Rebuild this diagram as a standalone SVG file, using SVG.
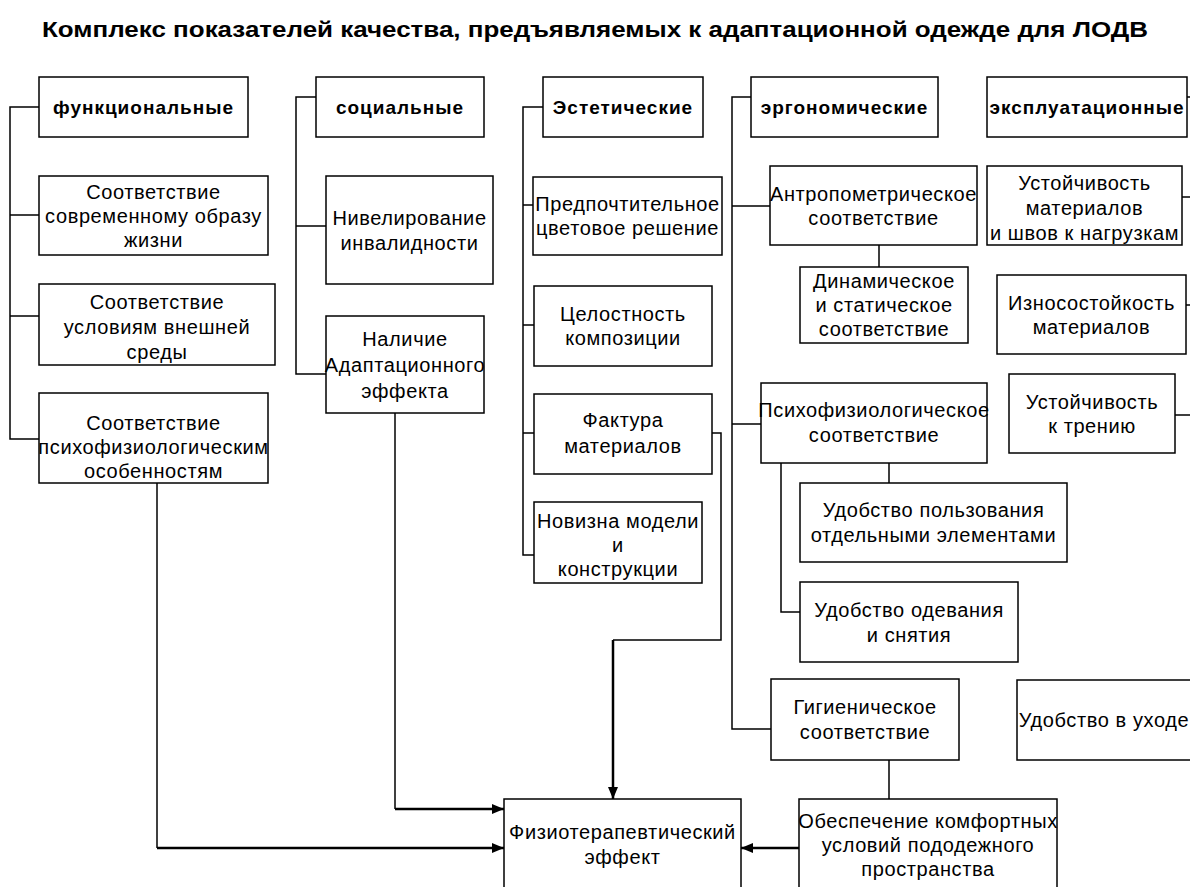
<svg xmlns="http://www.w3.org/2000/svg" width="1190" height="887" viewBox="0 0 1190 887">
<defs>
<style>
.box{fill:#fff;stroke:#000;stroke-width:1.5}
.t{font-family:"Liberation Sans",Arial,sans-serif;font-size:20px;letter-spacing:0.6px;text-anchor:middle;fill:#000}
.h{font-family:"Liberation Sans",Arial,sans-serif;font-size:19px;letter-spacing:1px;font-weight:bold;text-anchor:middle;fill:#000}
.c{fill:none;stroke:#000;stroke-width:1.5}
.a{fill:none;stroke:#000;stroke-width:2.5;marker-end:url(#ah)}
</style>
<marker id="ah" markerUnits="userSpaceOnUse" markerWidth="12" markerHeight="10" refX="12" refY="5" orient="auto">
<path d="M0,0 L12,5 L0,10 z" fill="#000"/>
</marker>
</defs>
<rect width="1190" height="887" fill="#fff"/>
<text x="595" y="37" font-family="Liberation Sans,Arial,sans-serif" font-size="22" font-weight="bold" text-anchor="middle" textLength="1106" lengthAdjust="spacingAndGlyphs">Комплекс показателей качества, предъявляемых к адаптационной одежде для ЛОДВ</text>

<g id="connectors">
<path class="c" d="M39,107 H10 V439 H39 M10,215 H39 M10,316 H39"/>
<path class="c" d="M316,97 H296 V374 H326 M296,226 H326"/>
<path class="c" d="M544,107 H523 V555 H534 M523,205 H533 M523,325 H534 M523,433 H534"/>
<path class="c" d="M751,97 H732 V729 H771 M732,206 H770 M732,424 H761"/>
<path class="c" d="M879,245 V267 M889,463 V483 M781,463 V612 H800 M889,760 V799"/>
<path class="c" d="M1187,97 H1190 M1182,197 H1190 M1186,305 H1190 M1175,415 H1190"/>
<path class="c" d="M712,433 H721 V640 H613"/>
<path class="a" d="M613,640 V799"/>
<path class="c" d="M157,483 V848"/>
<path class="a" d="M157,848 H504"/>
<path class="c" d="M395,413 V809"/>
<path class="a" d="M395,809 H504"/>
<path class="a" d="M799,848 H741"/>
</g>

<g id="n-func">
<rect class="box" x="39" y="77" width="209" height="60"/>
<text class="h" x="143.5" y="114">функциональные</text>
</g>
<g id="n-func1">
<rect class="box" x="39" y="176" width="229" height="79"/>
<text class="t" x="153.5" y="199">Соответствие</text>
<text class="t" x="153.5" y="223">современному образу</text>
<text class="t" x="153.5" y="247">жизни</text>
</g>
<g id="n-func2">
<rect class="box" x="39" y="284" width="236" height="81"/>
<text class="t" x="157" y="309">Соответствие</text>
<text class="t" x="157" y="334">условиям внешней</text>
<text class="t" x="157" y="359">среды</text>
</g>
<g id="n-func3">
<rect class="box" x="39" y="393" width="229" height="90"/>
<text class="t" x="153.5" y="430">Соответствие</text>
<text class="t" x="153.5" y="454">психофизиологическим</text>
<text class="t" x="153.5" y="478">особенностям</text>
</g>

<g id="n-soc">
<rect class="box" x="316" y="77" width="168" height="60"/>
<text class="h" x="400" y="114">социальные</text>
</g>
<g id="n-soc1">
<rect class="box" x="326" y="176" width="167" height="108"/>
<text class="t" x="409.5" y="225">Нивелирование</text>
<text class="t" x="409.5" y="250">инвалидности</text>
</g>
<g id="n-soc2">
<rect class="box" x="326" y="316" width="158" height="97"/>
<text class="t" x="405" y="346">Наличие</text>
<text class="t" x="405" y="372">Адаптационного</text>
<text class="t" x="405" y="398">эффекта</text>
</g>

<g id="n-est">
<rect class="box" x="543" y="77" width="160" height="60"/>
<text class="h" x="623" y="114">Эстетические</text>
</g>
<g id="n-est1">
<rect class="box" x="533" y="177" width="189" height="78"/>
<text class="t" x="627.5" y="211">Предпочтительное</text>
<text class="t" x="627.5" y="235">цветовое решение</text>
</g>
<g id="n-est2">
<rect class="box" x="534" y="286" width="178" height="80"/>
<text class="t" x="623" y="321">Целостность</text>
<text class="t" x="623" y="345">композиции</text>
</g>
<g id="n-est3">
<rect class="box" x="534" y="394" width="178" height="80"/>
<text class="t" x="623" y="427">Фактура</text>
<text class="t" x="623" y="453">материалов</text>
</g>
<g id="n-est4">
<rect class="box" x="534" y="502" width="168" height="81"/>
<text class="t" x="618" y="528">Новизна модели</text>
<text class="t" x="618" y="552">и</text>
<text class="t" x="618" y="576">конструкции</text>
</g>

<g id="n-erg">
<rect class="box" x="751" y="77" width="187" height="60"/>
<text class="h" x="844.5" y="114">эргономические</text>
</g>
<g id="n-erg1">
<rect class="box" x="770" y="166" width="207" height="79"/>
<text class="t" x="873.5" y="201">Антропометрическое</text>
<text class="t" x="873.5" y="225">соответствие</text>
</g>
<g id="n-erg1a">
<rect class="box" x="800" y="267" width="168" height="76"/>
<text class="t" x="884" y="288">Динамическое</text>
<text class="t" x="884" y="312">и статическое</text>
<text class="t" x="884" y="336">соответствие</text>
</g>
<g id="n-erg2">
<rect class="box" x="761" y="383" width="226" height="80"/>
<text class="t" x="874" y="417">Психофизиологическое</text>
<text class="t" x="874" y="442">соответствие</text>
</g>
<g id="n-erg2a">
<rect class="box" x="800" y="483" width="267" height="79"/>
<text class="t" x="933.5" y="517">Удобство пользования</text>
<text class="t" x="933.5" y="542">отдельными элементами</text>
</g>
<g id="n-erg2b">
<rect class="box" x="800" y="582" width="218" height="80"/>
<text class="t" x="909" y="617">Удобство одевания</text>
<text class="t" x="909" y="642">и снятия</text>
</g>
<g id="n-erg3">
<rect class="box" x="771" y="679" width="188" height="81"/>
<text class="t" x="865" y="714">Гигиеническое</text>
<text class="t" x="865" y="739">соответствие</text>
</g>
<g id="n-erg3a">
<rect class="box" x="799" y="799" width="258" height="100"/>
<text class="t" x="928" y="828">Обеспечение комфортных</text>
<text class="t" x="928" y="852">условий пододежного</text>
<text class="t" x="928" y="876">пространства</text>
</g>

<g id="n-exp">
<rect class="box" x="987" y="77" width="200" height="60"/>
<text class="h" x="1087" y="114">эксплуатационные</text>
</g>
<g id="n-exp1">
<rect class="box" x="987" y="166" width="195" height="79"/>
<text class="t" x="1084.5" y="190">Устойчивость</text>
<text class="t" x="1084.5" y="215">материалов</text>
<text class="t" x="1084.5" y="240">и швов к нагрузкам</text>
</g>
<g id="n-exp2">
<rect class="box" x="997" y="275" width="189" height="79"/>
<text class="t" x="1091.5" y="310">Износостойкость</text>
<text class="t" x="1091.5" y="334">материалов</text>
</g>
<g id="n-exp3">
<rect class="box" x="1009" y="374" width="166" height="79"/>
<text class="t" x="1092" y="409">Устойчивость</text>
<text class="t" x="1092" y="433">к трению</text>
</g>
<g id="n-exp4">
<rect class="box" x="1017" y="680" width="190" height="80"/>
<text class="t" x="1104" y="727">Удобство в уходе</text>
</g>

<g id="n-fizio">
<rect class="box" x="504" y="799" width="237" height="100"/>
<text class="t" x="622.5" y="839">Физиотерапевтический</text>
<text class="t" x="622.5" y="864">эффект</text>
</g>
</svg>
